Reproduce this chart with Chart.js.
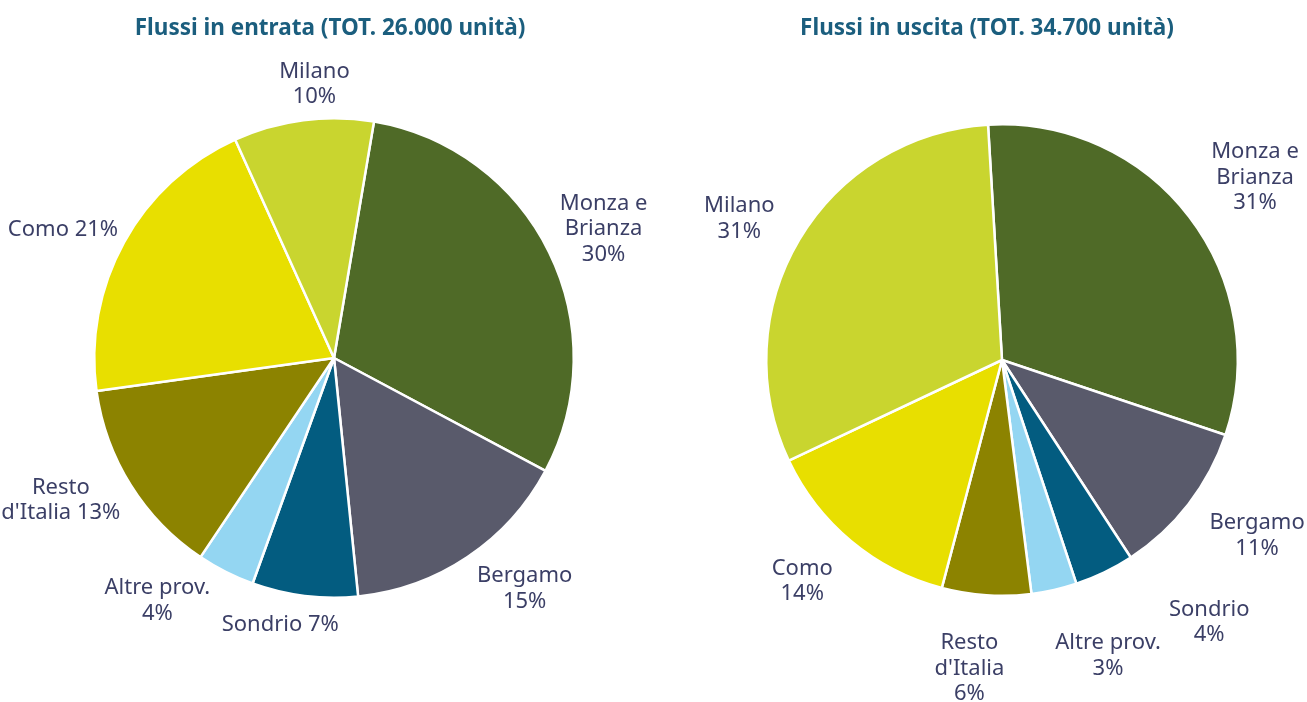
<!DOCTYPE html>
<html>
<head>
<meta charset="utf-8">
<title>Flussi in entrata e in uscita</title>
<script src="https://cdn.jsdelivr.net/npm/chart.js@4.4.1/dist/chart.umd.min.js"></script>
<style>
  html, body { margin: 0; padding: 0; background: #ffffff; }
  .wrap { display: flex; width: 1307px; height: 702px; }
  .box { position: relative; height: 702px; }
  #boxIn { width: 668px; }
  #boxOut { width: 639px; }
</style>
</head>
<body>
<div class="wrap">
  <div class="box" id="boxIn"><canvas id="pieIn"></canvas></div>
  <div class="box" id="boxOut"><canvas id="pieOut"></canvas></div>
</div>
<script>
// categorie (stesso ordine per le due torte, in senso orario)
const categorie = ['Monza e Brianza', 'Bergamo', 'Sondrio', 'Altre prov.', "Resto d'Italia", 'Como', 'Milano'];

// unità stimate dal grafico
const entrata = [7830, 4050, 1850, 1010, 3480, 5310, 2450];   // TOT. 26.000
const uscita  = [10800, 3700, 1420, 1080, 2120, 4820, 10790]; // TOT. 34.700

// percentuali come indicate nelle etichette
const pctEntrata = [30, 15, 7, 4, 13, 21, 10];
const pctUscita  = [31, 11, 4, 3, 6, 14, 31];

// testo delle etichette, riga per riga
const etichetteEntrata = [
  ['Monza e', 'Brianza', pctEntrata[0] + '%'],
  ['Bergamo', pctEntrata[1] + '%'],
  ['Sondrio ' + pctEntrata[2] + '%'],
  ['Altre prov.', pctEntrata[3] + '%'],
  ['Resto', "d'Italia " + pctEntrata[4] + '%'],
  ['Como ' + pctEntrata[5] + '%'],
  ['Milano', pctEntrata[6] + '%']
];
const etichetteUscita = [
  ['Monza e', 'Brianza', pctUscita[0] + '%'],
  ['Bergamo', pctUscita[1] + '%'],
  ['Sondrio', pctUscita[2] + '%'],
  ['Altre prov.', pctUscita[3] + '%'],
  ['Resto', "d'Italia", pctUscita[4] + '%'],
  ['Como', pctUscita[5] + '%'],
  ['Milano', pctUscita[6] + '%']
];

const colori = ['#4f6a27', '#595a6b', '#035c80', '#94d6f2', '#8c8300', '#e8df00', '#c9d52f'];

const FONT = "'Noto Sans', sans-serif";
const COL_TESTO = '#3b3f66';
const COL_TITOLO = '#1b5e7e';

// etichette fuori dalla torta, agganciate all'angolo medio di ogni fetta
const etichetteEsterne = {
  id: 'etichetteEsterne',
  afterDatasetsDraw(chart, args, opts) {
    const ctx = chart.ctx;
    const arcs = chart.getDatasetMeta(0).data;
    const lineH = opts.lineHeight;
    ctx.save();
    ctx.font = opts.size + 'px ' + FONT;
    ctx.fillStyle = COL_TESTO;
    ctx.textAlign = 'center';
    ctx.textBaseline = 'middle';
    arcs.forEach((arc, i) => {
      const p = arc.getProps(['x', 'y', 'startAngle', 'endAngle', 'outerRadius'], true);
      const mid = (p.startAngle + p.endAngle) / 2;
      const dx = Math.cos(mid), dy = Math.sin(mid);
      const lines = opts.testi[i];
      const w = Math.max(...lines.map(t => ctx.measureText(t).width));
      const h = lines.length * lineH;
      const r = p.outerRadius + opts.gap;
      const nudge = opts.nudge[i] || [0, 0];
      const cx = p.x + dx * r + dx * w / 2 + nudge[0];
      const cy = p.y + dy * r + dy * h / 2 + nudge[1];
      lines.forEach((t, k) => {
        ctx.fillText(t, cx, cy - h / 2 + lineH * (k + 0.5));
      });
    });
    ctx.restore();
  }
};

const titolo = {
  id: 'titolo',
  afterDraw(chart, args, opts) {
    const ctx = chart.ctx;
    ctx.save();
    ctx.font = 'bold ' + opts.size + 'px ' + FONT;
    ctx.fillStyle = COL_TITOLO;
    ctx.textAlign = 'center';
    ctx.textBaseline = 'middle';
    ctx.fillText(opts.text, opts.x, opts.y);
    ctx.restore();
  }
};

function creaTorta(id, valori, testi, rot, padding, tit, nudge) {
  const ctx = document.getElementById(id).getContext('2d');
  return new Chart(ctx, {
    type: 'pie',
    data: {
      labels: categorie,
      datasets: [{
        data: valori,
        backgroundColor: colori,
        borderColor: '#ffffff',
        borderWidth: 2.5,
        hoverOffset: 0
      }]
    },
    options: {
      responsive: true,
      maintainAspectRatio: false,
      animation: false,
      events: [],
      rotation: rot,
      layout: { padding: padding },
      plugins: {
        legend: { display: false },
        tooltip: { enabled: false },
        title: { display: false },
        etichetteEsterne: { testi: testi, size: 22, lineHeight: 25.5, gap: 10, nudge: nudge },
        titolo: tit
      }
    },
    plugins: [etichetteEsterne, titolo]
  });
}

creaTorta('pieIn', entrata, etichetteEntrata, 9.6,
  { top: 117, bottom: 103, left: 93, right: 93 },
  { text: 'Flussi in entrata (TOT. 26.000 unità)', x: 330, y: 29, size: 22.5 },
  [[6, -2], [25, 2], [-16, 6], [-40, -3], [-11, -4], [-4, -2], [17, -1]]);

creaTorta('pieOut', uscita, etichetteUscita, -3.4,
  { top: 123, bottom: 105, left: 97, right: 68 },
  { text: 'Flussi in uscita (TOT. 34.700 unità)', x: 319, y: 29, size: 22.5 },
  [[23, -10], [23, 10], [83, 18], [40, 31], [-14, 25], [-23, 13], [-21, -3]]);
</script>
</body>
</html>
